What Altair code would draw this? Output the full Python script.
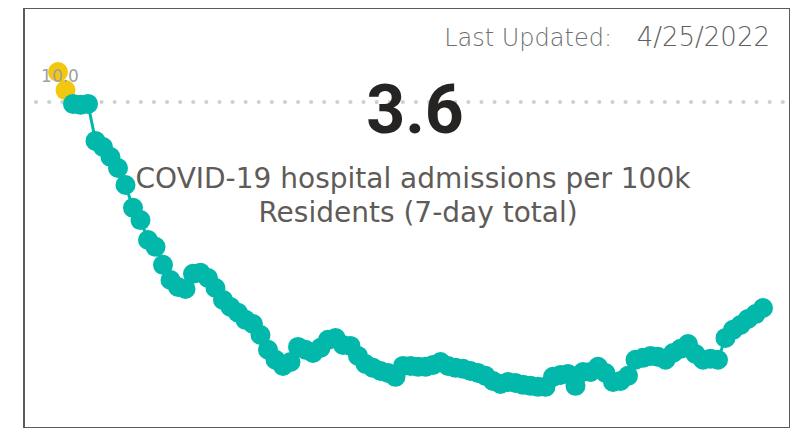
import altair as alt
import pandas as pd

# 7-day hospital admissions per 100k residents
values = [10.93, 10.37, 9.94, 9.91, 9.94, 8.79, 8.60, 8.29, 7.95, 7.42,
          6.71, 6.33, 5.71, 5.50, 4.94, 4.47, 4.25, 4.19, 4.66, 4.69,
          4.53, 4.22, 3.85, 3.63, 3.45, 3.23, 3.10, 2.76, 2.30, 1.99,
          1.80, 1.92, 2.39, 2.30, 2.20, 2.36, 2.61, 2.67, 2.45, 2.42,
          2.11, 1.86, 1.74, 1.64, 1.58, 1.46, 1.80, 1.80, 1.77, 1.77,
          1.83, 1.92, 1.80, 1.74, 1.71, 1.64, 1.58, 1.49, 1.33, 1.24,
          1.30, 1.27, 1.21, 1.18, 1.15, 1.15, 1.46, 1.52, 1.55, 1.18,
          1.61, 1.61, 1.77, 1.58, 1.30, 1.33, 1.49, 1.99, 2.05, 2.11,
          2.08, 1.99, 2.20, 2.33, 2.48, 2.17, 1.99, 2.02, 1.99, 2.67,
          2.92, 3.07, 3.26, 3.41, 3.60]
threshold = 10.0
current_value = "3.6"
title_lines = ["COVID-19 hospital admissions per 100k", "Residents (7-day total)"]
updated_label = "Last Updated:"
updated_date = "4/25/2022"

df = pd.DataFrame({"i": list(range(len(values))), "v": values})
n = len(values)
step = 705 / (n - 1)

W, H = 766, 420
xs = alt.Scale(domain=[-34 / step, (n - 1) + 27 / step])
ys = alt.Scale(domain=[-0.13, 12.92])

TEAL = "#01B8AA"
YELLOW = "#F2C80F"

base = alt.Chart(df)

line = base.mark_line(color=TEAL, strokeWidth=3).encode(
    x=alt.X("i:Q", scale=xs, axis=None),
    y=alt.Y("v:Q", scale=ys, axis=None),
)
pts = base.mark_circle(size=400, opacity=1).encode(
    x=alt.X("i:Q", scale=xs, axis=None),
    y=alt.Y("v:Q", scale=ys, axis=None),
    color=alt.condition(alt.datum.v > threshold, alt.value(YELLOW), alt.value(TEAL)),
)

ref = alt.Chart(pd.DataFrame({"t": [threshold]})).mark_rule(
    color="#cfcfcf", strokeWidth=4, strokeDash=[0.1, 13], strokeCap="round"
).encode(y=alt.Y("t:Q", scale=ys, axis=None), x=alt.value(12), x2=alt.value(761))

ref_label = alt.Chart(pd.DataFrame({"t": [threshold], "s": ["10.0"]})).mark_text(
    color="#a0a0a0", fontSize=17, font="DejaVu Sans", align="center", baseline="alphabetic"
).encode(x=alt.value(36), y=alt.value(74), text="s:N")

big = alt.Chart(pd.DataFrame({"s": [current_value]})).mark_text(
    color="#252423", fontSize=68, font="Roboto", fontWeight="bold", align="center",
    baseline="alphabetic"
).encode(x=alt.value(391), y=alt.value(125), text="s:N")

t1 = alt.Chart(pd.DataFrame({"s": [title_lines[0]]})).mark_text(
    color="#5f5b58", fontSize=28, font="DejaVu Sans", align="center", baseline="alphabetic"
).encode(x=alt.value(389), y=alt.value(180), text="s:N")
t2 = alt.Chart(pd.DataFrame({"s": [title_lines[1]]})).mark_text(
    color="#5f5b58", fontSize=28, font="DejaVu Sans", align="center", baseline="alphabetic"
).encode(x=alt.value(394), y=alt.value(214), text="s:N")

u1 = alt.Chart(pd.DataFrame({"s": [updated_label]})).mark_text(
    color="#6e6e6e", fontSize=24, font="DejaVu Sans", fontWeight=200, align="right",
    baseline="alphabetic"
).encode(x=alt.value(588), y=alt.value(38), text="s:N")
u2 = alt.Chart(pd.DataFrame({"s": [updated_date]})).mark_text(
    color="#606060", fontSize=26, font="DejaVu Sans", fontWeight=200, align="right",
    baseline="alphabetic"
).encode(x=alt.value(746), y=alt.value(38), text="s:N")

chart = alt.layer(ref, line, pts, ref_label, big, t1, t2, u1, u2).properties(
    width=W, height=H,
    autosize=alt.AutoSizeParams(type="none"),
    padding={"left": 16, "top": 0, "right": 0, "bottom": 0},
).configure_view(stroke="#5a5a5a", strokeWidth=2)

chart.save("out.html", embed_options={"renderer": "svg", "actions": False})
